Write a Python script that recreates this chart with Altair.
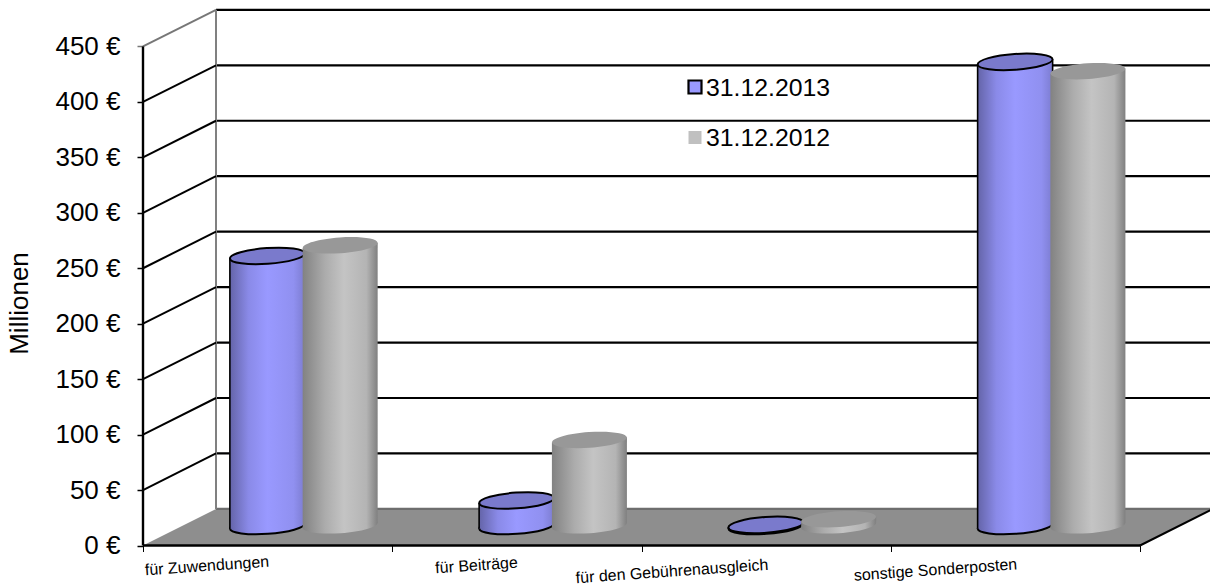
import altair as alt
import pandas as pd

# Chart values (million euro)
categories = ["für Zuwendungen", "für Beiträge", "für den Gebührenausgleich", "sonstige Sonderposten"]
values_2013 = [243.5, 23.0, 1.0, 418.5]
values_2012 = [252.5, 77.0, 5.5, 409.5]
series_names = ["31.12.2013", "31.12.2012"]
y_ticks = [0, 50, 100, 150, 200, 250, 300, 350, 400, 450]

# Scale of the drawing: one category step and one euro in pixels
W, H = 1210, 588
STEP, ORIGIN_X = 249.25, 143.0
PX, ORIGIN_Y = 1.109, 545.5
XDOM = [-ORIGIN_X / STEP, (W - ORIGIN_X) / STEP]
YDOM = [(ORIGIN_Y - H) / PX, ORIGIN_Y / PX]

# Oblique depth of the chart box, in axis units
DX, DY = 73 / STEP, 36.6 / PX

# Cylinder layout in axis units
RADIUS = 37.5 / STEP
TILT = 2.6 / PX
BLUE = dict(center=0.499, floor=17.6)
GREY = dict(center=0.791, floor=18.2)

FONT = "Liberation Sans"
BLUE_GRAD = alt.LinearGradient(
    gradient="linear", x1=0, x2=1, y1=0, y2=0,
    stops=[alt.GradientStop(color="#6464a8", offset=0), alt.GradientStop(color="#8a8ae8", offset=0.25),
           alt.GradientStop(color="#9999ff", offset=0.5), alt.GradientStop(color="#9090f0", offset=0.85),
           alt.GradientStop(color="#7c7cd0", offset=1)])
GREY_GRAD = alt.LinearGradient(
    gradient="linear", x1=0, x2=1, y1=0, y2=0,
    stops=[alt.GradientStop(color="#828282", offset=0), alt.GradientStop(color="#acacac", offset=0.3),
           alt.GradientStop(color="#c4c4c4", offset=0.55), alt.GradientStop(color="#b4b4b4", offset=0.85),
           alt.GradientStop(color="#808080", offset=1)])

# Unit ellipse, scaled by the symbol size
K = 0.5523
B = 0.21
ELLIPSE = (f"M-1,0C-1,{-K*B:.4f},{-K:.4f},{-B},0,{-B}C{K:.4f},{-B},1,{-K*B:.4f},1,0"
           f"C1,{K*B:.4f},{K:.4f},{B},0,{B}C{-K:.4f},{B},-1,{K*B:.4f},-1,0Z")
ELLIPSE_SIZE = (2 * 37.5) ** 2

sx = alt.Scale(domain=XDOM, range=[0, W], nice=False, zero=False)
sy = alt.Scale(domain=YDOM, range=[H, 0], nice=False, zero=False)

# Axes: both are placed on the front edge of the box
y_axis = alt.Axis(
    values=y_ticks, offset=-ORIGIN_X, domain=False, grid=False, tickSize=6, tickWidth=1.5,
    tickColor={"condition": {"test": "datum.value === 450", "value": "#777777"}, "value": "#000000"},
    labelExpr="datum.value + ' €'", labelFont=FONT, labelFontSize=26, labelColor="#000000", labelPadding=17,
    title="Millionen", titleFont=FONT, titleFontSize=26, titleFontWeight="normal", titleColor="#000000",
    titleX=-111, titleY=303, titleAngle=270, titleAnchor="middle",
)
x_axis = alt.Axis(values=list(range(len(categories) + 1)), offset=ORIGIN_Y - H, domain=False, grid=False,
                  labels=False, tickSize=6, tickWidth=1, tickColor="#000000", title=None)


def X(field="x"):
    return alt.X(f"{field}:Q", scale=sx, axis=x_axis)


def Y(field="y"):
    return alt.Y(f"{field}:Q", scale=sy, axis=y_axis, stack=None, title="Millionen")


# Floor of the box
n = len(categories)
floor = alt.Chart(pd.DataFrame({
    "x": [0, DX, n, n + DX], "y": [0, DY, DY, DY], "y2": [0, 0, 0, DY],
})).mark_area(color="#8e8e8e", opacity=1).encode(X(), Y(), y2="y2:Q")

# Back wall grid, left wall diagonals and box edges
grid_df = pd.DataFrame({"v": y_ticks})
grid_df["x"] = DX
grid_df["x2"] = n + DX
grid_df["y"] = grid_df["v"] + DY
grid_df["x0"] = 0.0
grid_df["y0"] = grid_df["v"].astype(float)
grid_df["c"] = ["#6e6e6e" if v == 0 else "#000000" for v in y_ticks]
grid_df["d"] = ["#777777" if v == y_ticks[-1] else "#000000" for v in y_ticks]

grid = alt.Chart(grid_df).mark_rule(strokeWidth=2.2).encode(
    X(), x2="x2:Q", y=Y(), color=alt.Color("c:N", scale=None))
diag = alt.Chart(grid_df[grid_df.v > 0]).mark_rule(strokeWidth=2).encode(
    X("x0"), x2="x:Q", y=Y("y0"), y2="y:Q", color=alt.Color("d:N", scale=None))
wall_edge = alt.Chart(pd.DataFrame({"x": [DX], "y": [DY], "y2": [y_ticks[-1] + DY]})).mark_rule(
    strokeWidth=2, color="#808080").encode(X(), y=Y(), y2="y2:Q")
front_edge = alt.Chart(pd.DataFrame({"x": [0], "y": [0], "y2": [y_ticks[-1]]})).mark_rule(
    strokeWidth=2.4, color="#000000").encode(X(), y=Y(), y2="y2:Q")
base_edge = alt.Chart(pd.DataFrame({"x": [0], "x2": [n], "y": [0]})).mark_rule(
    strokeWidth=2.6, color="#000000").encode(X(), x2="x2:Q", y=Y())
side_edge = alt.Chart(pd.DataFrame({"x": [n], "x2": [n + DX], "y": [0], "y2": [DY]})).mark_rule(
    strokeWidth=2, color="#000000").encode(X(), x2="x2:Q", y=Y(), y2="y2:Q")


def cylinders(values, geom, gradient, top_fill, stroke):
    """Bottom ellipse, shaded body, optional outline and top ellipse of one series."""
    centers = [i + geom["center"] for i in range(len(values))]
    points = pd.DataFrame({
        "x": centers,
        "top": [v + geom["floor"] for v in values],
        "bottom": [geom["floor"]] * len(values),
    })
    body_rows = []
    for i, (c, v) in enumerate(zip(centers, values)):
        top = v + geom["floor"]
        body_rows.append(dict(id=i, x=c - RADIUS, y=top - TILT, y2=geom["floor"] - TILT))
        body_rows.append(dict(id=i, x=c + RADIUS, y=top + TILT, y2=geom["floor"] + TILT))
    body_df = pd.DataFrame(body_rows)

    ell = dict(shape=ELLIPSE, size=ELLIPSE_SIZE, angle=356, filled=True, opacity=1)
    if stroke:
        ell.update(stroke="#000000", strokeWidth=2)
    else:
        ell.update(strokeWidth=0)

    parts = [
        alt.Chart(points).mark_point(fill=gradient, **ell).encode(X(), Y("bottom")),
        alt.Chart(body_df).mark_area(fill=gradient, opacity=1).encode(X(), Y(), y2="y2:Q", detail="id:N"),
    ]
    if stroke:
        parts.append(alt.Chart(body_df).mark_rule(strokeWidth=1.6, color="#000000").encode(X(), y=Y(), y2="y2:Q"))
    parts.append(alt.Chart(points).mark_point(fill=top_fill, **ell).encode(X(), Y("top")))
    return parts


# Category labels sit slightly rotated under the floor
label_df = pd.DataFrame({
    "label": categories,
    "x": [(207 - ORIGIN_X) / STEP, (476.5 - ORIGIN_X) / STEP, (672 - ORIGIN_X) / STEP, (935.5 - ORIGIN_X) / STEP],
    "y": [(ORIGIN_Y - 566) / PX, (ORIGIN_Y - 565.5) / PX, (ORIGIN_Y - 571.5) / PX, (ORIGIN_Y - 570) / PX],
})
labels = alt.Chart(label_df).mark_text(font=FONT, fontSize=16, angle=356, color="#000000", align="center",
                                       baseline="middle").encode(X(), Y(), text="label:N")

# Hand-placed key inside the plot
key_df = pd.DataFrame({
    "name": series_names,
    "x": [(695 - ORIGIN_X) / STEP] * 2,
    "tx": [(706 - ORIGIN_X) / STEP] * 2,
    "y": [(ORIGIN_Y - 87) / PX, (ORIGIN_Y - 137.5) / PX],
    "ty": [(ORIGIN_Y - 88.5) / PX, (ORIGIN_Y - 139) / PX],
})
key_blue = alt.Chart(key_df.iloc[[0]]).mark_point(shape="square", size=169, filled=True, fill="#9999ff",
                                                  stroke="#000000", strokeWidth=2.2, opacity=1).encode(X(), Y())
key_grey = alt.Chart(key_df.iloc[[1]]).mark_point(shape="square", size=169, filled=True, fill="#c0c0c0",
                                                  strokeWidth=0, opacity=1).encode(X(), Y())
key_text = alt.Chart(key_df).mark_text(font=FONT, fontSize=24.8, color="#000000", align="left",
                                       baseline="middle").encode(X("tx"), Y("ty"), text="name:N")

layers = [floor, grid, wall_edge, diag, front_edge, base_edge, side_edge]
layers += cylinders(values_2013, BLUE, BLUE_GRAD, "#7a7acc", True)
layers += cylinders(values_2012, GREY, GREY_GRAD, "#989898", False)
layers += [labels, key_blue, key_grey, key_text]

chart = alt.layer(*layers).properties(
    width=W, height=H, padding=0, autosize=alt.AutoSizeParams(type="none"),
    background="#ffffff",
).configure_view(stroke=None)

chart.save("out.html", embed_options={"renderer": "svg", "actions": False})
